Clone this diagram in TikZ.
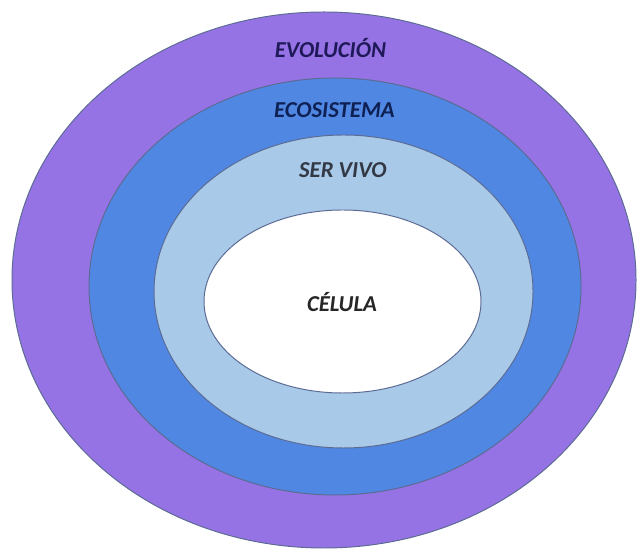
\documentclass[tikz,border=0pt]{standalone}
\usepackage{fontspec}
\setmainfont{Carlito}
\definecolor{evolpurple}{rgb}{0.59, 0.45, 0.90}
\definecolor{ecoblue}{rgb}{0.31, 0.53, 0.89}
\definecolor{vivoblue}{rgb}{0.66, 0.79, 0.91}
\definecolor{rimgrey}{rgb}{0.36, 0.42, 0.58}
\definecolor{navyink}{rgb}{0.12, 0.10, 0.35}
\definecolor{ecoink}{rgb}{0.06, 0.13, 0.33}
\definecolor{greyink}{rgb}{0.20, 0.22, 0.27}

\begin{document}
\begin{tikzpicture}[
  ring/.style={draw=rimgrey,line width=.7pt},
  lbl/.style={font=\fontsize{16.2}{18}\selectfont\bfseries\itshape,inner sep=0pt}
  ]
\useasboundingbox (0,0) rectangle (15.975,13.75);

\filldraw[ring,fill=evolpurple] (8.1,6.75) ellipse (7.8 and 6.7);
\filldraw[ring,fill=ecoblue] (8.375,6.5875) ellipse (6.15 and 5.2125);
\filldraw[ring,fill=vivoblue] (8.5875,6.4625) ellipse (4.7375 and 3.9125);
\filldraw[ring,fill=white] (8.5625,6.2125) ellipse (3.4625 and 2.2875);

\node[lbl,text=navyink] (evolucion) at (8.26,12.55) {EVOLUCIÓN};
\node[lbl,text=ecoink] (ecosistema) at (8.36,11.0) {ECOSISTEMA};
\node[lbl,text=greyink] (servivo) at (8.57,9.5) {SER VIVO};
\node[lbl,text=black!85] (celula) at (8.55,6.2) {CÉLULA};
\end{tikzpicture}
\end{document}
